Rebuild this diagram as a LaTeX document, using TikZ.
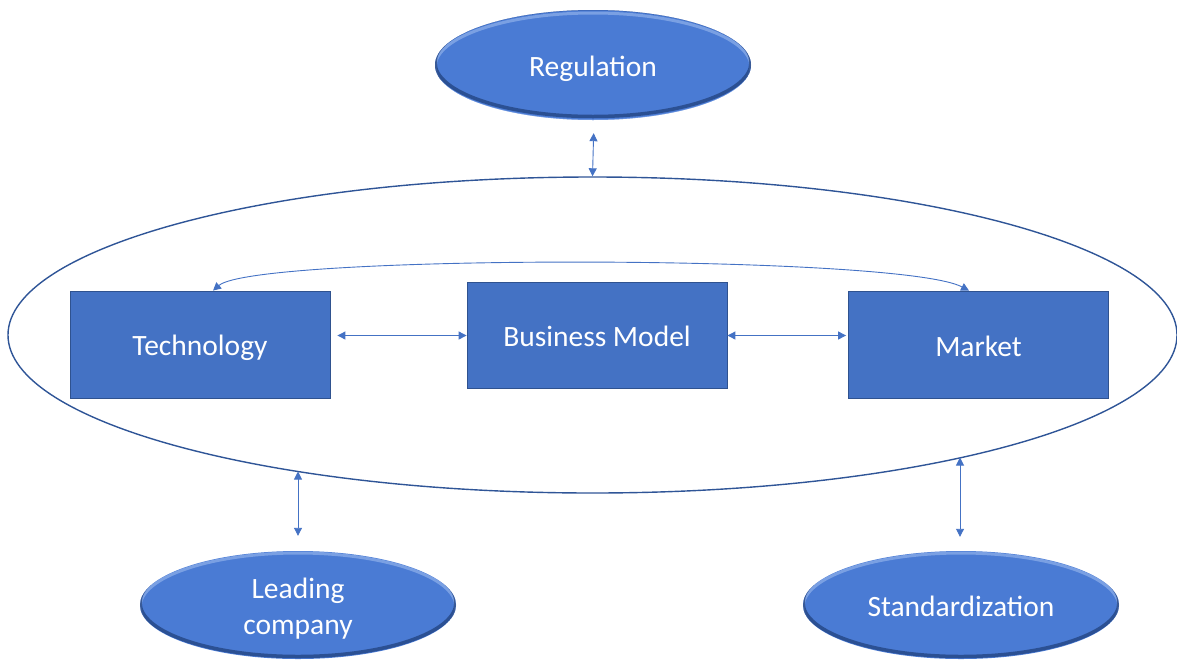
\documentclass[tikz,border=0pt]{standalone}
\usepackage{fontspec}
\setmainfont{Carlito}
\usetikzlibrary{shapes.geometric,arrows.meta}
\definecolor{boxfill}{HTML}{4472C4}
\definecolor{boxline}{HTML}{2F528F}
\definecolor{elfill}{HTML}{4A7BD4}
\definecolor{eldark}{HTML}{1F3E78}
\definecolor{ellight}{HTML}{8FB0EA}
\definecolor{bigline}{HTML}{2F5597}
\definecolor{arrcol}{HTML}{4472C4}
\newcommand\txtstrut[1]{\rule{0pt}{#1}}
\tikzset{
  lbl/.style={text=white,font=\fontsize{29.5}{36}\selectfont,align=center},
  boxnode/.style={lbl,rectangle,fill=boxfill,draw=boxline,line width=0.8pt,
     minimum width=260pt,minimum height=106pt,inner sep=0pt},
  ovalnode/.style={lbl,ellipse,fill=elfill,inner sep=0pt,
     minimum width=316pt,minimum height=108pt,
     path picture={
       \draw[ellight,line width=3pt,opacity=0.7]
         ([yshift=-2pt]path picture bounding box.center) ellipse (158pt and 54pt);
       \draw[eldark,line width=3.5pt,opacity=0.7]
         ([yshift=2.5pt]path picture bounding box.center) ellipse (158pt and 54pt);
     }},
  arr/.style={draw=arrcol,line width=0.9pt,
     {Triangle[length=8pt,width=8pt]}-{Triangle[length=8pt,width=8pt]}},
}
\begin{document}
\begin{tikzpicture}[x=1pt,y=-1pt]
\useasboundingbox (0,0) rectangle (1177,659);
% big ellipse
\node[ellipse,draw=bigline,line width=1.4pt,minimum width=1169pt,minimum height=316pt,inner sep=0pt] (big) at (592.5,335) {};
\coordinate (bigL) at (298,471.5);
\coordinate (bigR) at (960,457.5);
% outer ovals
\node[ovalnode,minimum height=110pt] (reg) at (593,65) {\txtstrut{28.5pt}Regulation};
\node[ovalnode] (lead) at (298,605) {\txtstrut{27pt}Leading\\company};
\node[ovalnode] (std) at (961,605) {\txtstrut{24pt}Standardization};
% boxes
\node[boxnode,minimum height=107pt] (tech) at (200,344.5) {\txtstrut{27pt}Technology};
\node[boxnode] (bm) at (597,335.5) {\txtstrut{22pt}Business Model};
\node[boxnode,minimum height=107pt] (mkt) at (978.5,344.5) {\txtstrut{25pt}Market};
% connectors
\draw[arr,shorten <=7pt] (tech.east |- bm.center) -- (bm.west);
\draw[arr,shorten >=2pt] (bm.east) -- (mkt.west |- bm.center);
\draw[arr] ([xshift=13pt]tech.north) .. controls (255,254) and (900,254) .. ([xshift=-9.5pt]mkt.north);
\draw[arr,shorten <=13pt] ([xshift=1pt]reg.south) -- (big.north);
\draw[arr,shorten >=15pt] (bigL) -- (lead.north);
\draw[arr,shorten >=14pt] (bigR) -- ([xshift=-1pt]std.north);
\end{tikzpicture}
\end{document}
